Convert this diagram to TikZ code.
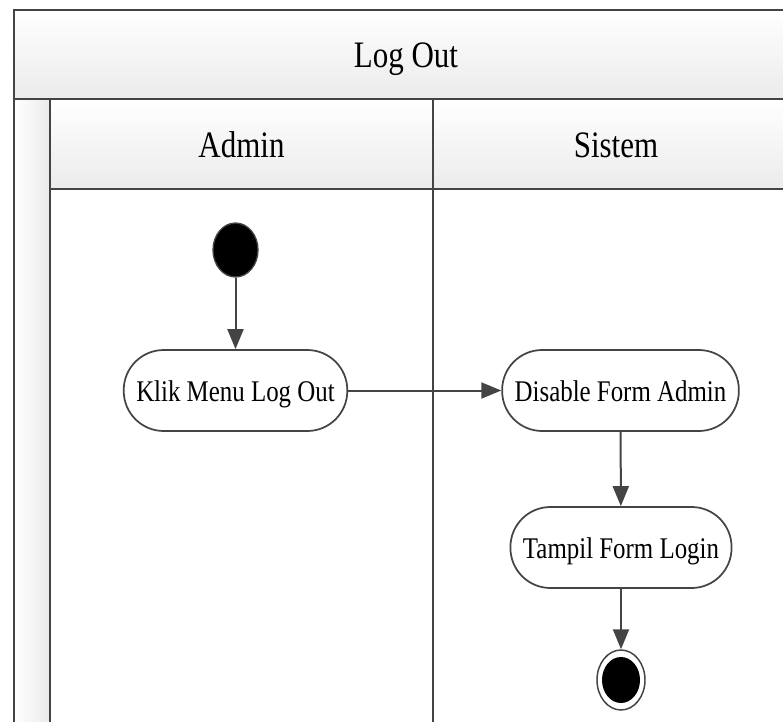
\documentclass[tikz,border=0pt]{standalone}
\usepackage{xcolor}
\usepackage{fontspec}
\setmainfont[FakeStretch=0.83]{Liberation Serif}
\usepackage{tikz}
\usetikzlibrary{arrows.meta,shapes.geometric}
\definecolor{linegray}{HTML}{444444}
\definecolor{shadegray}{HTML}{EBEBEB}
\tikzset{>={Triangle[length=15pt,width=12pt]}}
\tikzset{
  frame/.style={draw=linegray,line width=1.6pt},
  lanetitle/.style={anchor=base,font=\fontsize{28}{32}\selectfont},
  activity/.style={draw=linegray,line width=1.3pt,fill=white,rounded corners=30pt,
    minimum height=60.75pt,inner xsep=9.4pt,text height=19pt,text depth=2.5pt,
    font=\fontsize{22.5}{26}\selectfont},
  startnode/.style={ellipse,draw=linegray,line width=1pt,fill=black,
    minimum width=33.75pt,minimum height=40.5pt,inner sep=0pt},
  endnode/.style={ellipse,draw=linegray,line width=1.1pt,fill=white,
    minimum width=36pt,minimum height=45pt,inner sep=0pt,
    path picture={\fill[black] (path picture bounding box.center) ellipse [x radius=14.25pt,y radius=17.25pt];}},
  flow/.style={->,draw=linegray,line width=1.5pt}
}

\begin{document}
\begin{tikzpicture}[x=0.75pt,y=-0.75pt]
      \useasboundingbox (0,0) rectangle (783,722);
      \clip (0,0) rectangle (783,722);
      % swimlane frame
      \shade[top color=white,bottom color=shadegray](14,10) rectangle (798,99);
      \shade[top color=white,bottom color=shadegray](50,99) rectangle (798,189);
      \shade[left color=white,right color=shadegray](14,99) rectangle (50,730);
      \draw[frame](14,730) -- (14,10) -- (798,10) -- (798,730);
      \draw[frame](14,99) -- (798,99);
      \draw[frame](50,189) -- (798,189);
      \draw[frame](50,99) -- (50,730);
      \draw[frame](433,99) -- (433,730);
      \node[lanetitle] (title) at (406,67) {Log Out};
      \node[lanetitle] (admin) at (241.5,157) {Admin};
      \node[lanetitle] (sistem) at (616,157) {Sistem};
      % activities
      \node[startnode] (start) at (235.5,250) {};
      \node[activity] (klik) at (235.5,390.5) {Klik Menu Log Out};
      \node[activity] (disable) at (620.5,390.5) {Disable Form Admin};
      \node[activity] (tampil) at (621,547.5) {Tampil Form Login};
      \node[endnode] (end) at (621,680) {};
      \draw[flow](start) -- (klik);
      \draw[flow](klik) -- (disable);
      \draw[flow](disable) -- (tampil);
      \draw[flow](tampil) -- (end);
    \end{tikzpicture}
\end{document}
